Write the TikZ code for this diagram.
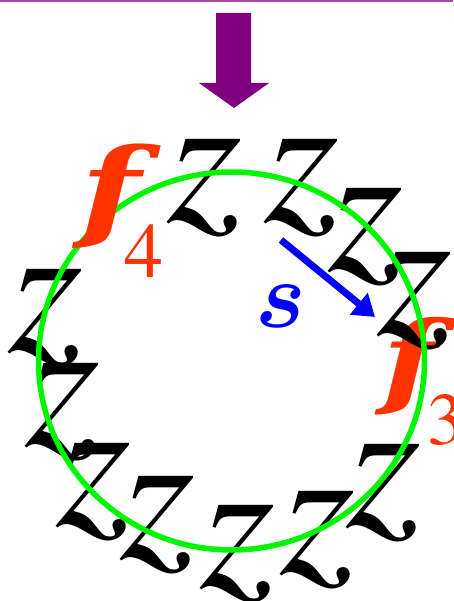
\documentclass[tikz,border=0pt]{standalone}
\usepackage{fix-cm}
\usepackage{bm}
\usepackage{fontspec}
\newfontfamily\djser{DejaVu Serif}
\usetikzlibrary{arrows.meta}
\definecolor{fred}{RGB}{255,51,0}
\definecolor{arrpurple}{RGB}{128,0,128}
\definecolor{topline}{RGB}{172,70,172}
\definecolor{ringgreen}{RGB}{0,245,0}
\definecolor{sblue}{RGB}{0,0,255}
\begin{document}
\begin{tikzpicture}[x=1pt,y=-1pt,
  zglyph/.style={inner sep=0pt,font=\fontsize{192}{192}\usefont{T1}{ptm}{m}{it}},
  fglyph/.style={inner sep=0pt,text=fred,font=\djser\bfseries\itshape},
  subdigit/.style={inner sep=0pt,text=fred,font=\usefont{T1}{ptm}{m}{n}}]
\useasboundingbox (0,0) rectangle (453,601);
% top rule
\draw[topline,line width=1.6pt] (0,0.8) -- (453,0.8);
% purple block arrow
\fill[arrpurple] (216,13) -- (251,13) -- (251,83) -- (269,83) -- (234,108) -- (199,83) -- (216,83) -- cycle;
% f3 (below the ring)
\node[fglyph,font=\fontsize{103}{103}\djser\bfseries\itshape] (f3) at (410,366) {\scalebox{1.25}[1]{f}};
\node[subdigit,font=\fontsize{74}{74}\usefont{T1}{ptm}{m}{n}] (f3sub) at (446,420) {3};
% the z glyphs
\node[zglyph] (z1) at (205,188) {z};
\node[zglyph] (z2) at (302,188) {z};
\node[zglyph] (z3) at (366,236.5) {z};
\node[zglyph] (z4) at (414.5,300.5) {z};
\node[zglyph] (z5) at (45.5,317.5) {z};
\node[zglyph] (z6) at (62.5,412) {z};
\node[zglyph] (z7) at (94,492) {z};
\node[zglyph] (z8) at (158,524.5) {z};
\node[zglyph] (z9) at (238,554) {z};
\node[zglyph] (z10) at (318,539.5) {z};
\node[zglyph] (z11) at (383.5,493) {z};
% green ring
\draw[ringgreen,line width=5.5pt] (231.5,361) ellipse [x radius=193, y radius=189];
% f4 (above the ring)
\node[fglyph,font=\fontsize{110}{110}\djser\bfseries\itshape] (f4) at (111,196) {\scalebox{1.28}[1]{f}};
\node[subdigit,font=\fontsize{78}{78}\usefont{T1}{ptm}{m}{n}] (f4sub) at (143.5,251.5) {4};
% s and its arrow
\node[inner sep=0pt,text=sblue,font=\fontsize{95}{95}\selectfont] (s) at (280.5,306) {$\bm{s}$};
\coordinate (sa) at (281,240);
\coordinate (sb) at (375,317);
\draw[sblue,line width=7pt,-{Triangle[length=21pt,width=27pt]}] (sa) -- (sb);
\end{tikzpicture}
\end{document}
